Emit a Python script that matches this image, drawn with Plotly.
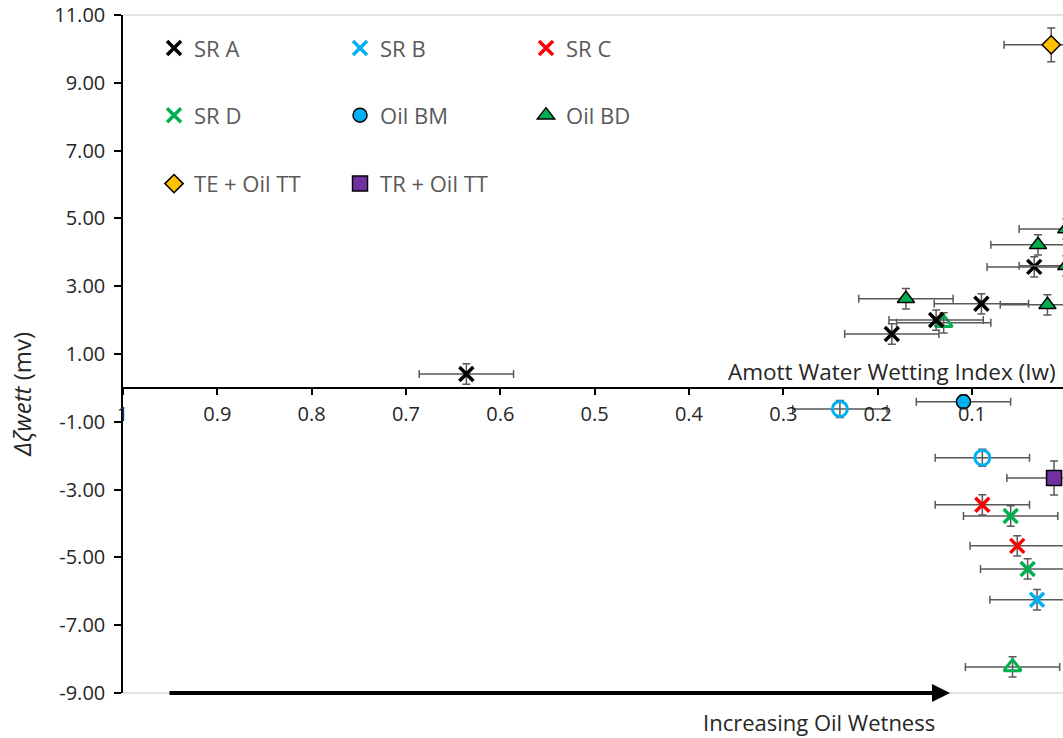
import plotly.graph_objects as go

# ---------------- data ----------------
sr_a_x = [0.636, 0.185, 0.138, 0.090, 0.034]
sr_a_y = [0.41, 1.59, 2.00, 2.48, 3.57]

sr_b_x = [0.031]
sr_b_y = [-6.25]

sr_c_x = [0.089, 0.052]
sr_c_y = [-3.45, -4.66]

sr_d_x = [0.059, 0.041]
sr_d_y = [-3.78, -5.34]

oil_bm_x = [0.109]
oil_bm_y = [-0.41]
oil_bm_open_x = [0.240, 0.089]
oil_bm_open_y = [-0.62, -2.06]

oil_bd_x = [0.170, 0.030, 0.020, 0.000, 0.000]
oil_bd_y = [2.63, 4.22, 2.45, 4.69, 3.60]
oil_bd_open_x = [0.130, 0.057]
oil_bd_open_y = [1.92, -8.23]

te_x = [0.016]
te_y = [10.12]

tr_x = [0.013]
tr_y = [-2.66]

x_err = 0.05
y_err = 0.30
y_err_big = 0.50

x_tickvals = [1, 0.9, 0.8, 0.7, 0.6, 0.5, 0.4, 0.3, 0.2, 0.1]
x_ticktext = ["", "0.9", "0.8", "0.7", "0.6", "0.5", "0.4", "0.3", "0.2", "0.1"]
x_edge_label = "1"
y_tickvals = [11, 9, 7, 5, 3, 1, -1, -3, -5, -7, -9]
y_ticktext = ["11.00", "9.00", "7.00", "5.00", "3.00", "1.00",
              "-1.00", "-3.00", "-5.00", "-7.00", "-9.00"]

# ---------------- styles ----------------
ERR_COL = "#595959"
FONT = "Open Sans"
TXT = "#262626"
LEG = "#595959"


def ebars(ye):
    return dict(
        error_x=dict(type="constant", value=x_err, color=ERR_COL, thickness=1.5, width=4),
        error_y=dict(type="constant", value=ye, color=ERR_COL, thickness=1.5, width=4),
    )


fig = go.Figure()


def add(xs, ys, name, symbol, color, size, line_color, line_width, legend="legend", show=True, ye=y_err):
    fig.add_trace(go.Scatter(
        x=xs, y=ys, mode="markers", name=name,
        marker=dict(symbol=symbol, color=color, size=size,
                    line=dict(color=line_color, width=line_width)),
        showlegend=show,
        legend=legend,
        **ebars(ye),
    ))


# hollow (not in legend)
add(oil_bm_open_x, oil_bm_open_y, "Oil BM (open)", "circle-open", "#00B0F0", 15, "#00B0F0", 3, show=False, ye=0.25)
add(oil_bd_open_x, oil_bd_open_y, "Oil BD (open)", "triangle-up-open", "#00B050", 15, "#00B050", 3, show=False)

add(sr_a_x, sr_a_y, "SR A", "x-thin", "#000000", 14, "#000000", 3.5, legend="legend")
add(sr_b_x, sr_b_y, "SR B", "x-thin", "#00B0F0", 14, "#00B0F0", 3.5, legend="legend")
add(sr_c_x, sr_c_y, "SR C", "x-thin", "#FF0000", 14, "#FF0000", 3.5, legend="legend")
add(sr_d_x, sr_d_y, "SR D", "x-thin", "#00B050", 14, "#00B050", 3.5, legend="legend2")
add(oil_bm_x, oil_bm_y, "Oil BM", "circle", "#00B0F0", 14, "#000000", 1.5, legend="legend2", ye=0.2)
add(oil_bd_x, oil_bd_y, "Oil BD", "triangle-up", "#00B050", 15, "#000000", 1.5, legend="legend2")
add(te_x, te_y, "TE + Oil TT", "diamond", "#FFC000", 14, "#000000", 1.5, legend="legend3", ye=y_err_big)
add(tr_x, tr_y, "TR + Oil TT", "square", "#7030A0", 15, "#000000", 1.5, legend="legend3", ye=y_err_big)

leg_common = dict(orientation="h", xanchor="left", yanchor="middle",
                  font=dict(family=FONT, size=22, color=LEG),
                  bgcolor="rgba(0,0,0,0)", entrywidth=141, entrywidthmode="pixels",
                  traceorder="normal")

fig.update_layout(
    width=1063, height=738,
    margin=dict(l=123, r=0, t=15, b=45, autoexpand=False),
    paper_bgcolor="white", plot_bgcolor="white",
    font=dict(family=FONT, color=TXT),
    legend=dict(x=0.033, y=0.951, **leg_common),
    legend2=dict(x=0.033, y=0.852, **leg_common),
    legend3=dict(x=0.033, y=0.751, **leg_common),
    xaxis=dict(
        range=[1, 0.0035], anchor="free", position=0.45, automargin=False,
        showgrid=False, zeroline=False,
        showline=True, linecolor="#000000", linewidth=1.5,
        ticks="outside", ticklen=6, tickcolor="#000000", tickwidth=1.5,
        tickvals=x_tickvals, ticktext=x_ticktext, ticklabelstandoff=2,
        ticklabeloverflow="allow",
        tickfont=dict(family=FONT, size=20, color=TXT),
    ),
    yaxis=dict(
        range=[-9, 11], automargin=False,
        showgrid=False, zeroline=False,
        showline=True, linecolor="#000000", linewidth=1.5,
        ticks="outside", ticklen=7, tickcolor="#000000", tickwidth=1.5,
        tickvals=y_tickvals, ticktext=y_ticktext, ticklabelstandoff=5,
        ticklabeloverflow="allow",
        tickfont=dict(family=FONT, size=20, color=TXT),
    ),
    shapes=[
        dict(type="line", xref="paper", yref="paper", x0=0, x1=1, y0=1, y1=1,
             line=dict(color="#D9D9D9", width=1.5)),
        dict(type="line", xref="paper", yref="paper", x0=0, x1=1, y0=0, y1=0,
             line=dict(color="#D9D9D9", width=1.5)),
    ],
    annotations=[
        dict(text=x_edge_label, xref="x", yref="paper", x=x_tickvals[0], y=0.412,
             xanchor="center", yanchor="middle", xshift=-1, showarrow=False,
             font=dict(family=FONT, size=20, color=TXT)),
        dict(text="Amott Water Wetting Index (Iw)", xref="paper", yref="paper",
             x=0.9947, y=0.474, xanchor="right", yanchor="middle", showarrow=False,
             font=dict(family=FONT, size=22.5, color=TXT)),
        dict(text="<i>Δζwett</i> (mv)", xref="paper", yref="paper",
             x=-0.1074, y=0.44, xanchor="center", yanchor="middle", textangle=-90,
             showarrow=False, font=dict(family=FONT, size=24, color=TXT)),
        dict(text="Increasing Oil Wetness", xref="paper", yref="paper",
             x=0.7404, y=-0.043, xanchor="center", yanchor="middle", showarrow=False,
             font=dict(family=FONT, size=22, color=TXT)),
        dict(text="", xref="paper", yref="paper", x=0.8798, y=0.0,
             ax=-782, ay=0, axref="pixel", ayref="pixel",
             showarrow=True, arrowhead=2, arrowsize=0.9, arrowwidth=4, arrowcolor="#000000"),
    ],
)

fig.write_html(
    "out.html",
    config={"displayModeBar": False},
    post_script="document.body.style.margin='0';document.body.style.overflow='hidden';",
)
